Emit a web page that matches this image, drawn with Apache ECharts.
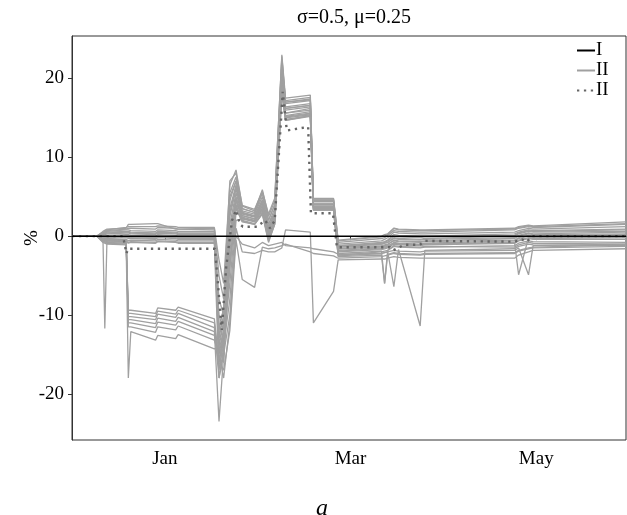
<!DOCTYPE html>
<html>
<head>
<meta charset="utf-8">
<script src="https://cdn.jsdelivr.net/npm/echarts@6/dist/echarts.min.js"></script>
<style>html,body{margin:0;padding:0;background:#fff}#c{width:627px;height:515px}</style>
</head>
<body>
<div id="c"></div>
<script>
// x positions in days since 1 Dec (Jan tick = 30, Mar = 90, May = 150)
const tickDays = [30, 90, 150];
const tickLabels = ['Jan', 'Mar', 'May'];
const yTicks = [-20, -10, 0, 10, 20];

// Shared day grid for the gray (II) runs
const grayX = [0, 8, 10, 10.6, 11.3, 17.5, 18.2, 19, 27, 27.7, 33.5, 34.3, 46, 47.5, 49, 51, 53, 55, 59, 61.5, 63.5, 65.5, 67.8, 69, 77, 78, 84.5, 86, 100, 101, 102, 104, 105.5, 112.5, 114, 143, 144.3, 147.5, 149, 179];

const u01 = [0,0,0.6,0.8,0.9, 1.0,1.5,1.5,1.6,1.6, 0.9,0.9,1.0,-3,-6, 6.5,8.4,3.8,3.2,5.9, 2.5,4.5,23.0,17.5,17.9, 4.8,4.8,-0.5,0.0,0.2, 0.3,1.0,0.9,0.8,0.8, 1.0,1.2,1.4,1.3,1.8];
const u02 = [0,0,0.4,0.6,0.7, 0.9,1.0,1.0,0.9,1.1, 1.0,0.9,0.8,-8,-10, 5.5,7.5,3.5,3.0,5.5, 2.0,4.0,22.5,17.2,17.6, 4.6,4.6,-0.8,-0.3,-0.2, 0.1,0.7,0.6,0.5,0.5, 0.8,1.0,1.2,1.1,1.5];
const u03 = [0,0,0.3,0.5,0.6, 0.8,0.8,0.7,0.6,0.8, 0.7,0.6,0.6,-12,-9, 4.5,7.0,3.2,2.8,5.0, 1.5,3.5,21.5,16.8,17.2, 4.4,4.4,-1.0,-0.6,-0.4, -0.2,0.5,0.4,0.3,0.3, 0.5,0.7,1.0,0.9,1.2];
const u04 = [0,0,0.2,0.4,0.5, 0.6,0.6,0.5,0.4,0.6, 0.5,0.4,0.4,-14,-11, 3.5,6.5,3.0,2.6,4.6, 1.0,3.0,21.0,16.4,16.8, 4.2,4.2,-1.2,-0.8,-0.7, -0.5,0.2,0.1,0.0,0.0, 0.3,0.5,0.8,0.7,0.9];
const u05 = [0,0,0.1,0.3,0.3, 0.4,0.4,0.3,0.2,0.4, 0.3,0.2,0.2,-15,-12, 2.5,6.0,2.8,2.4,4.2, 0.5,2.5,20.5,16.0,16.4, 4.0,4.0,-1.4,-1.0,-0.9, -0.8,-0.2,-0.3,-0.4,-0.3, 0.0,0.3,0.6,0.5,0.6];
const u06 = [0,0,0.0,0.1,0.1, 0.2,0.2,0.1,0.0,0.2, 0.1,0.0,0.0,-16,-13, 1.5,5.5,2.6,2.2,3.8, 0.2,2.2,20.0,15.6,16.0, 3.8,3.8,-1.6,-1.3,-1.2, -1.1,-0.5,-0.6,-0.7,-0.6, -0.3,0.0,0.3,0.2,0.3];
const u07 = [0,0,-0.1,0.0,-0.1, 0.0,0.0,-0.1,-0.2,0.0, -0.1,-0.2,-0.2,-14,-16, 0.5,5.0,2.4,2.0,3.5, 0.0,2.0,19.5,15.2,15.6, 3.6,3.6,-1.8,-1.5,-1.4, -1.3,-0.8,-0.9,-1.0,-0.9, -0.6,-0.3,0.0,-0.1,0.0];
const u08 = [0,0,-0.2,-0.2,-0.3, -0.2,-0.3,-0.3,-0.4,-0.2, -0.3,-0.4,-0.4,-12,-14, -1.0,4.5,2.2,1.8,3.2, -0.3,1.8,19.0,15.0,15.4, 3.5,3.5,-2.0,-1.7,-1.6, -1.5,-1.0,-1.1,-1.2,-1.1, -0.9,-0.6,-0.3,-0.4,-0.4];
const u09 = [0,0,-0.3,-11.7,-0.4, -0.4,-0.6,-0.5,-0.6,-0.4, -0.5,-0.6,-0.6,-10,-12, -2.0,4.0,2.0,1.6,3.0, -0.5,1.6,18.5,14.8,15.3, 3.4,3.4,-2.2,-1.9,-6.0, -1.8,-1.3,-1.4,-1.5,-1.4, -1.2,-0.9,-0.6,-0.7,-0.8];
const u10 = [0,0,-0.5,-0.6,-0.6, -0.7,-0.9,-0.8,-0.9,-0.7, -0.8,-0.9,-0.9,-18,-15, -4.0,3.5,1.8,1.5,2.8, -0.8,1.5,18.0,14.7,15.3, 3.3,3.3,-2.5,-2.2,-2.1, -2.0,-6.4,-1.7,-11.4,-1.8, -1.6,-1.3,-1.0,-1.1,-1.2];
const u11 = [0,0,0.5,0.7,0.8, 1.1,1.2,1.2,1.2,1.3, 1.2,1.1,1.1,-5,-8, 7.0,8.0,3.9,3.4,5.7, 2.8,4.8,22.8,17.0,17.3, 4.7,4.7,-0.6,-0.1,0.0, 0.2,1.0,0.8,0.7,0.7, 0.9,1.1,1.3,1.2,1.6];
const u12 = [0,0,0.2,0.3,0.4, 0.5,0.5,0.4,0.3,0.5, 0.4,0.3,0.3,-13,-10, 3.0,6.2,2.9,2.5,4.4, 0.8,2.8,20.8,16.2,16.6, 4.1,4.1,-1.3,-0.9,-0.8, -0.6,0.0,-0.1,-0.2,-0.1, 0.1,0.4,0.7,0.6,0.8];
const u13 = [0,0,-0.2,-0.1,-0.2, -0.1,-0.2,-0.2,-0.3,-0.1, -0.2,-0.3,-0.3,-13,-15, -0.5,4.8,2.3,1.9,3.4, -0.1,1.9,19.2,15.1,15.5, 3.5,3.5,-1.9,-1.6,-1.5, -1.4,-0.9,-1.0,-1.1,-1.0, -0.8,-0.5,-0.2,-0.2,-0.2];
const u14 = [0,0,-0.4,-0.5,-0.5, -0.6,-0.8,-0.7,-0.8,-0.6, -0.7,-0.8,-0.8,-11,-13, -3.0,3.8,1.9,1.5,2.9, -0.6,1.5,18.2,14.7,15.2, 3.3,3.3,-2.4,-2.0,-1.9, -1.8,-1.2,-1.3,-1.4,-1.3, -1.4,-1.1,-0.8,-0.9,-1.0];
const d01 = [0,0,-0.2,-0.3,-0.4, -0.5,-9.4,-9.4,-9.8,-9.1, -9.4,-9.0,-10.5,-16,-12, -4,4,3,2.5,4.5, 1.5,3,21,16.2,16.6, 4.0,4.0,-1.2,-1.0,-0.9, -0.8,-0.3,-0.4,-0.5,-0.4, -0.2,0.1,0.4,0.3,0.5];
const d02 = [0,0,-0.3,-0.4,-0.5, -0.6,-9.8,-9.8,-10.2,-9.5, -9.9,-9.4,-11.0,-17,-13, -6,3,2.6,2.2,4.0, 1.2,2.5,20.2,15.6,16.2, 3.8,3.8,-1.4,-1.2,-1.1, -1.0,-0.6,-0.7,-0.8,-0.7, -0.5,-0.2,0.1,0.0,0.2];
const d03 = [0,0,-0.4,-0.5,-0.6, -0.7,-10.2,-10.2,-10.6,-9.9, -10.3,-9.8,-11.6,-18,-14, -8,2,2.2,2.0,3.6, 1.0,2.2,19.6,15.3,15.8, 3.7,3.7,-1.6,-1.4,-1.3, -1.2,-0.9,-1.0,-1.1,-1.0, -0.8,-4.9,-0.2,-0.3,-0.2];
const d04 = [0,0,-0.5,-0.6,-0.7, -0.8,-10.6,-10.6,-11.1,-10.4, -10.8,-10.3,-12.1,-23.5,-15, -10,0,-1.0,-1.5,-0.8, -1.2,-1.0,-0.8,-1.2,-1.5, -1.6,-2.0,-2.3,-2.2,-2.1, -2.0,-1.8,-1.9,-2.0,-1.9, -1.8,-1.5,-4.9,-1.2,-1.0];
const d05 = [0,0,-0.6,-0.7,-0.8, -0.9,-11.0,-11.0,-11.6,-10.9, -11.3,-10.8,-12.6,-16,-17, -12,-0.5,-5.5,-6.5,-1.4, -1.6,-1.5,-1.2,-1.0,-2.0, -2.2,-2.5,-2.8,-2.6,-2.5, -2.4,-2.2,-2.3,-2.4,-2.3, -2.2,-1.9,-1.6,-1.5,-1.3];
const d06 = [0,0,-0.7,-0.8,-0.9, -1.0,-11.5,-11.5,-12.2,-11.5, -11.9,-11.4,-13.2,-15,-18, -11,1,-2,-2.2,-1.8, -2.0,-2.0,-1.5,0.8,0.5, -11,-7,-3.0,-2.9,-2.9, -2.8,-2.6,-2.7,-2.8,-2.8, -2.8,-2.4,-2.0,-1.8,-1.6];
const d07 = [0,0,-0.8,-0.9,-1.0, -1.1,-18,-12.1,-13.2,-12.6, -13.0,-12.5,-14.3,-14,-16, 5,7,3.5,3.0,5.5, 2,4,22,17,17.4, 4.5,4.5,-2.6,-2.4,-6.0, -2.3,-2.1,-2.2,-2.3,-2.2, -2.1,-1.8,-1.5,-1.4,-1.1];
const grayRuns = [u01,u02,u03,u04,u05,u06,u07,u08,u09,u10,u11,u12,u13,u14,d01,d02,d03,d04,d05,d06,d07];

// Dotted II line
const dotX = [0, 16.5, 17.6, 18.1, 46.2, 48.4, 49.8, 51.7, 53, 54.3, 55.2, 59.8, 62.4, 64, 65.5, 68.1, 69.4, 76.3, 77.2, 84.3, 85.6, 102.7, 103.8, 107.3, 112.4, 114, 143.1, 145.4, 147, 148.6, 179];
const dotY = [0, 0, -2.2, -1.6, -1.6, -11.9, -4.0, 2.0, 3.3, 1.5, 1.2, 1.2, 2.0, 1.0, 2.0, 18.3, 13.4, 13.85, 2.9, 2.9, -1.4, -1.4, -1.8, -1.1, -1.1, -0.6, -0.7, -0.4, -0.7, 0, 0];

// Line I
const lineIX = [0, 179];
const lineIY = [0, 0];

const FONT = 'Liberation Serif';
const pairs = (xs, ys) => xs.map((x, i) => [x, ys[i]]);

const series = [];
grayRuns.forEach((ys) => {
  series.push({
    name: 'II', type: 'line', data: pairs(grayX, ys), symbol: 'none',
    lineStyle: { color: '#a0a0a0', width: 1.3 }, itemStyle: { color: '#a0a0a0' },
    animation: false, z: 2
  });
});
series.push({
  name: 'II*', type: 'line', data: pairs(dotX, dotY), symbol: 'none',
  lineStyle: { color: '#666666', width: 2.4, type: [2.3, 4.6] }, itemStyle: { color: '#666666' },
  animation: false, z: 3
});
series.push({
  name: 'I', type: 'line', data: pairs(lineIX, lineIY), symbol: 'none',
  lineStyle: { color: '#000', width: 1.5 }, itemStyle: { color: '#000' },
  animation: false, z: 4
});

const chart = echarts.init(document.getElementById('c'), null, { renderer: 'canvas' });
chart.setOption({
  animation: false,
  backgroundColor: '#fff',
  title: {
    text: 'σ=0.5, μ=0.25', left: 349, top: 3, textAlign: 'center',
    textStyle: { fontFamily: FONT, fontSize: 20, fontWeight: 'normal', color: '#000' }
  },
  grid: { left: 72, right: 1, top: 36, bottom: 75, outerBoundsMode: 'none', containLabel: false,
          show: true, borderColor: '#333', borderWidth: 1, backgroundColor: 'transparent' },
  legend: {
    data: ['I', 'II', 'II*'], orient: 'vertical', left: 571, top: 36,
    itemWidth: 18, itemHeight: 14, itemGap: 1,
    itemStyle: { opacity: 0 },
    formatter: (n) => n.replace('*', ''),
    textStyle: { fontFamily: FONT, fontSize: 19, color: '#000', padding: [0, 0, 0, -4] }
  },
  xAxis: {
    type: 'value', min: 0, max: 179,
    name: 'a', nameLocation: 'middle', nameGap: 57, nameMoveOverlap: false,
    nameTextStyle: { fontFamily: FONT, fontStyle: 'italic', fontSize: 24, color: '#000', padding: [0, 54, 0, 0] },
    splitLine: { show: false },
    axisLine: { show: true, lineStyle: { color: '#333', width: 1 } },
    axisTick: { show: true, length: 4, customValues: tickDays, lineStyle: { color: '#333' } },
    axisLabel: {
      customValues: tickDays, margin: 10,
      formatter: (v) => { const i = tickDays.indexOf(Math.round(v)); return i >= 0 ? tickLabels[i] : ''; },
      fontFamily: FONT, fontSize: 19, color: '#000'
    }
  },
  yAxis: {
    type: 'value', min: -25.86, max: 25.39,
    name: '%', nameLocation: 'middle', nameGap: 30, nameMoveOverlap: false,
    nameTextStyle: { fontFamily: FONT, fontSize: 19, color: '#000' },
    splitLine: { show: false },
    axisLine: { show: true, lineStyle: { color: '#333', width: 1 } },
    axisTick: { show: true, length: 4, customValues: yTicks, lineStyle: { color: '#333' } },
    axisLabel: {
      customValues: yTicks, margin: 8,
      formatter: (v) => String(Math.round(v)),
      fontFamily: FONT, fontSize: 19, color: '#000'
    }
  },
  series: series
});
</script>
</body>
</html>
